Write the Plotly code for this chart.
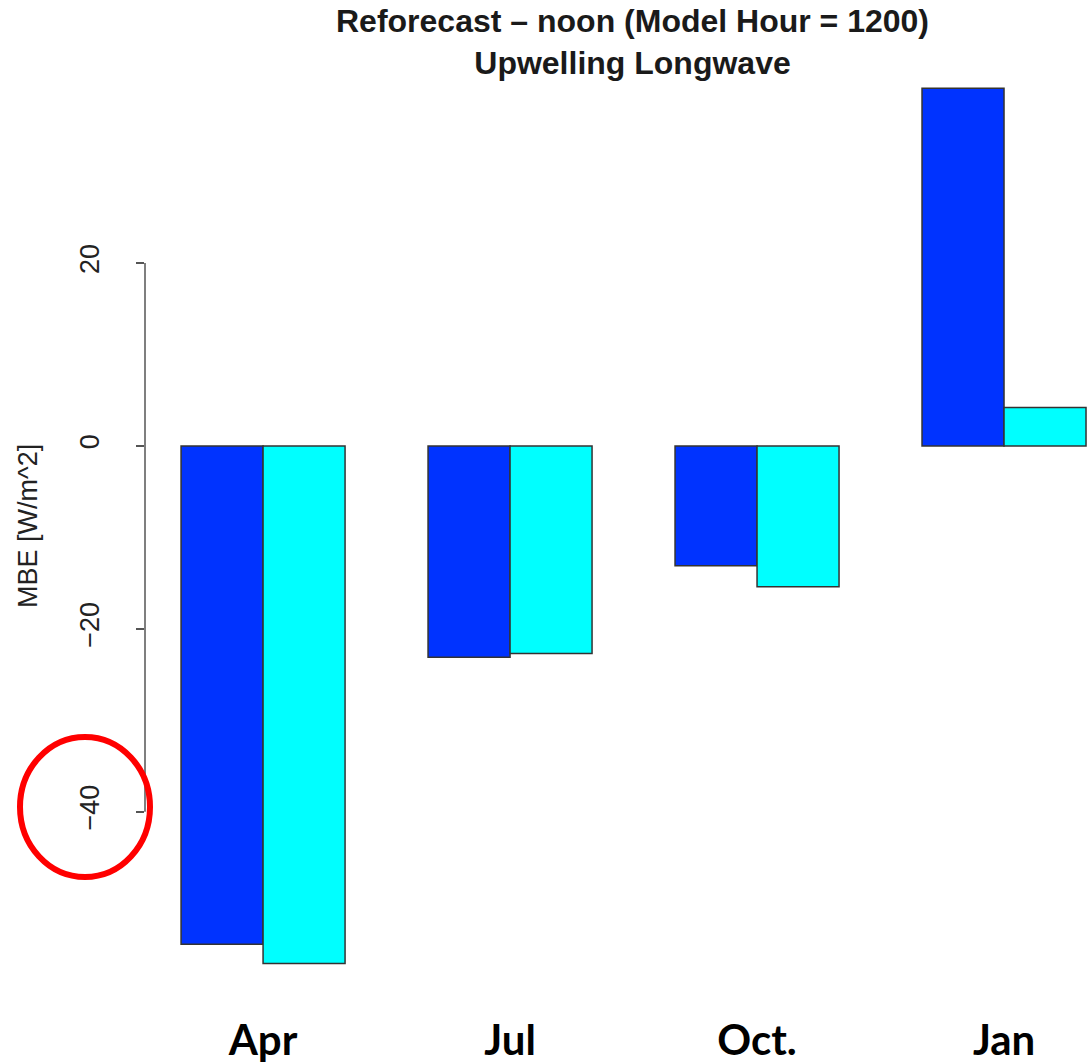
import plotly.graph_objects as go

# data
months = ["Apr", "Jul", "Oct.", "Jan"]
mbe_blue = [-54.5, -23.1, -13.1, 39.1]
mbe_cyan = [-56.6, -22.7, -15.4, 4.2]
y_ticks = [-40, -20, 0, 20]
y_ticktext = ["\u221240", "\u221220", "0", "20"]

COLORS = {
    "blue": "#0033FF",
    "cyan": "#00FFFF",
    "edge": "#333333",
    "axis": "#555555",
    "text": "#000000",
    "red": "#FF0000",
}

W, H = 1088, 1064
L, R, T, B = 145, 0, 70, 84
PW, PH = W - L - R, H - T - B


def px_x(px):
    return (px - L) / PW


def px_y(py):
    return (H - B - py) / PH


fig = go.Figure()
fig.add_trace(go.Bar(x=months, y=mbe_blue, name="Series 1",
                     marker=dict(color=COLORS["blue"], line=dict(color=COLORS["edge"], width=1.5))))
fig.add_trace(go.Bar(x=months, y=mbe_cyan, name="Series 2",
                     marker=dict(color=COLORS["cyan"], line=dict(color=COLORS["edge"], width=1.5))))

# R-style axis line only spanning the tick range
fig.add_shape(type="line", xref="paper", yref="y", x0=0, x1=0,
              y0=min(y_ticks), y1=max(y_ticks),
              line=dict(color=COLORS["axis"], width=1.5))

# red highlight circle around the -40 label
fig.add_shape(type="circle", xref="paper", yref="paper",
              x0=px_x(20), x1=px_x(150), y0=px_y(877), y1=px_y(737),
              line=dict(color=COLORS["red"], width=6))

fig.add_annotation(text="MBE [W/m^2]", textangle=-90, xref="paper", yref="paper",
                   x=px_x(28), y=px_y(526), xanchor="center", yanchor="middle",
                   showarrow=False,
                   font=dict(family="Liberation Sans, Arial", size=27, color="#222222"))

# two-line bold title
fig.add_annotation(text="<b>Reforecast \u2013 noon (Model Hour = 1200)</b><br><b>Upwelling Longwave</b>",
                   xref="paper", yref="paper", x=px_x(632), y=px_y(1),
                   xanchor="center", yanchor="top", showarrow=False,
                   font=dict(family="Liberation Sans, Arial", size=32, color="#1a1a1a"))

fig.update_layout(
    width=W, height=H, autosize=False,
    paper_bgcolor="white", plot_bgcolor="white",
    showlegend=False,
    barmode="group", bargap=0.336, bargroupgap=0,
    margin=dict(l=L, r=R, t=T, b=B),
    xaxis=dict(
        type="category", range=[-0.478, 3.34],
        showline=False, showgrid=False, zeroline=False, ticks="",
        tickfont=dict(family="Lato", size=42, color=COLORS["text"], weight="bold"),
        ticklabelstandoff=32,
    ),
    yaxis=dict(
        range=[-58.4, 41.1],
        tickvals=y_ticks, ticktext=y_ticktext, tickangle=-90,
        ticks="outside", ticklen=8, tickwidth=1.5, tickcolor=COLORS["axis"],
        showline=False, showgrid=False, zeroline=False,
        tickfont=dict(family="Liberation Sans, Arial", size=27, color="#222222"),
        ticklabelstandoff=26,
    ),
)

fig.write_html("out.html", config={"displayModeBar": False},
               post_script="document.body.style.margin='0';")
